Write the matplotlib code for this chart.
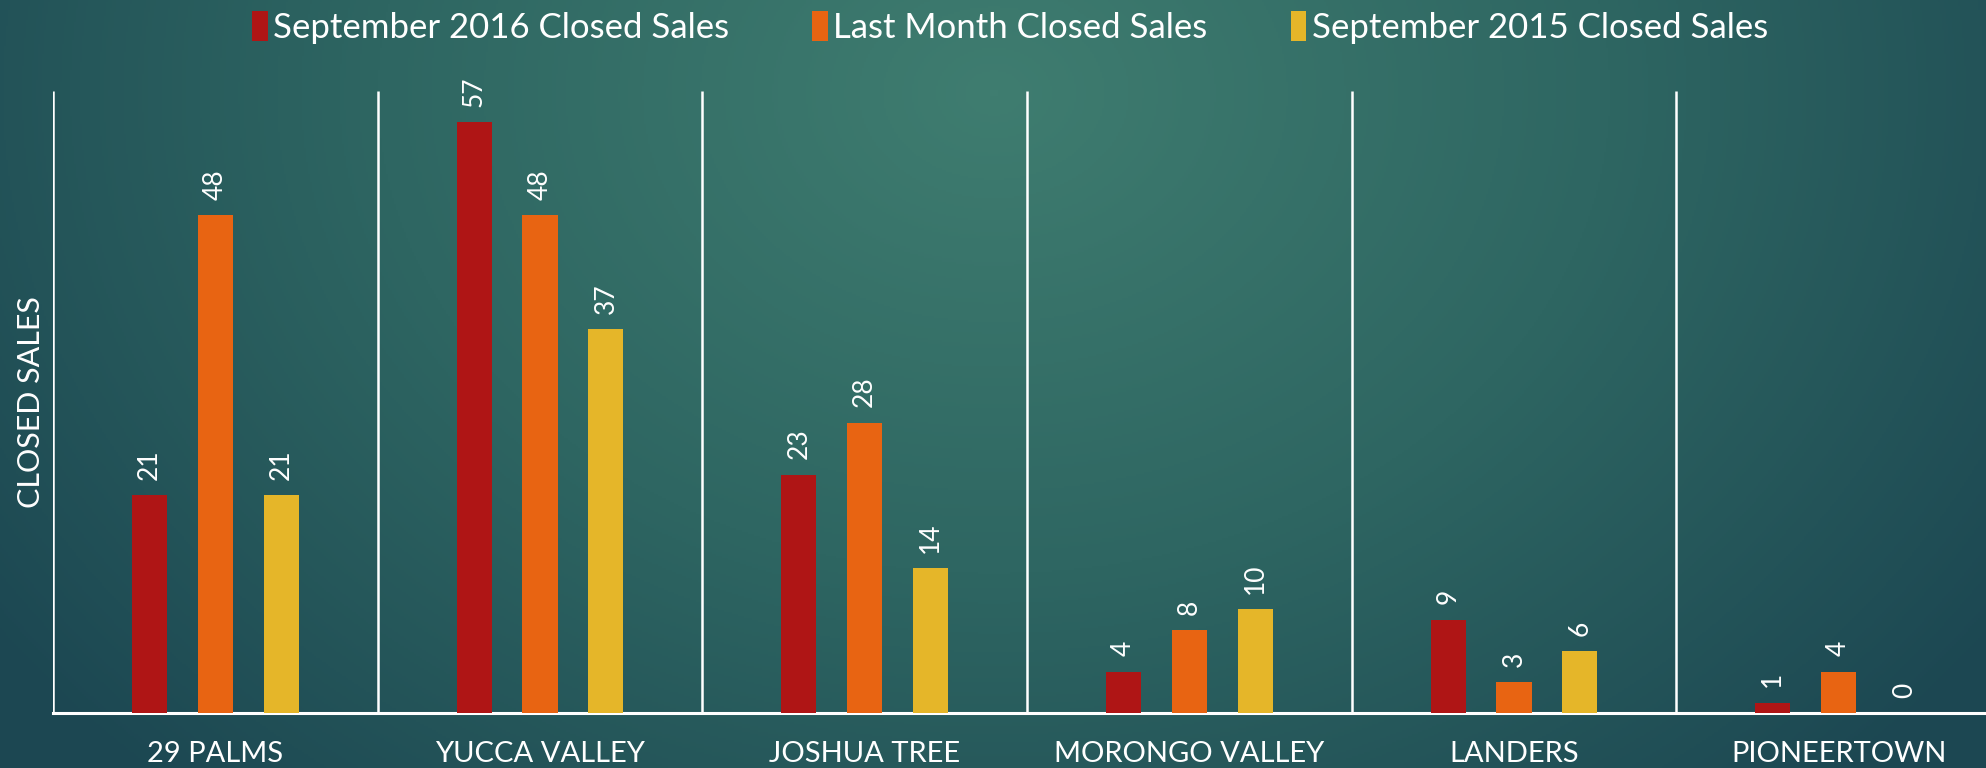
import numpy as np
import matplotlib
matplotlib.use("Agg")
import matplotlib.pyplot as plt
from matplotlib.colors import LinearSegmentedColormap

plt.rcParams['font.family'] = ['Lato', 'DejaVu Sans']

categories = ["29 PALMS", "YUCCA VALLEY", "JOSHUA TREE", "MORONGO VALLEY", "LANDERS", "PIONEERTOWN"]
series_names = ["September 2016 Closed Sales", "Last Month Closed Sales", "September 2015 Closed Sales"]
sep2016 = [21, 57, 23, 4, 9, 1]
last_month = [48, 48, 28, 8, 3, 4]
sep2015 = [21, 37, 14, 10, 6, 0]
colors = ["#AF1515", "#E86412", "#E5B629"]

W, H = 1986, 768
fig = plt.figure(figsize=(W / 100, H / 100), dpi=100)

# background radial gradient
bg = fig.add_axes([0, 0, 1, 1], zorder=-10)
yy, xx = np.mgrid[0:H:2, 0:W:2]
cx, cy = 0.50 * W, 0.12 * H
d = np.sqrt(((xx - cx) / (0.62 * W)) ** 2 + ((yy - cy) / (1.25 * H)) ** 2)
d = np.clip(d, 0, 1)
cmap = LinearSegmentedColormap.from_list("bg", ["#3f7d70", "#2e6662", "#1c4752"])
bg.imshow(d, cmap=cmap, aspect="auto", extent=[0, 1, 0, 1], origin="upper", vmin=0, vmax=1)
bg.axis("off")

ax = fig.add_axes([53 / W, 1 - 713 / H, 1948 / W, 622 / H])
ax.patch.set_alpha(0)
x = np.arange(len(categories))
bw = 0.108
off = 0.203
for i, (vals, c, name) in enumerate(zip([sep2016, last_month, sep2015], colors, series_names)):
    xs = x + (i - 1) * off
    ax.bar(xs, vals, bw, color=c, label=name, zorder=3)
    for xv, v in zip(xs, vals):
        ax.annotate(str(v), (xv, v), xytext=(0, 11), textcoords="offset points",
                    rotation=90, ha="center", va="bottom", color="white", fontsize=19)

ax.set_xlim(-0.5, len(categories) - 0.5)
ax.set_ylim(0, 60)
ax.vlines(np.arange(len(categories) + 1) - 0.5, 0, 60, color="white", lw=1.8, zorder=2)
for s in ["top", "right", "left"]:
    ax.spines[s].set_visible(False)
ax.spines["bottom"].set_color("white")
ax.spines["bottom"].set_linewidth(2.2)
ax.set_yticks([])
ax.set_xticks(x)
ax.set_xticklabels(categories, color="white", fontsize=21)
ax.tick_params(axis="x", length=0, pad=20)
ax.set_ylabel("CLOSED SALES", color="white", fontsize=22, labelpad=6)

ax.legend(loc="upper center", bbox_to_anchor=((1010 - 53) / 1948, 1 + 91 / 622 + 0.005),
          ncol=3, frameon=False, fontsize=25, labelcolor="white",
          handlelength=0.45, handleheight=0.95, handletextpad=0.15, columnspacing=2.4,
          borderaxespad=0)

fig.savefig("out.png", dpi=100)
